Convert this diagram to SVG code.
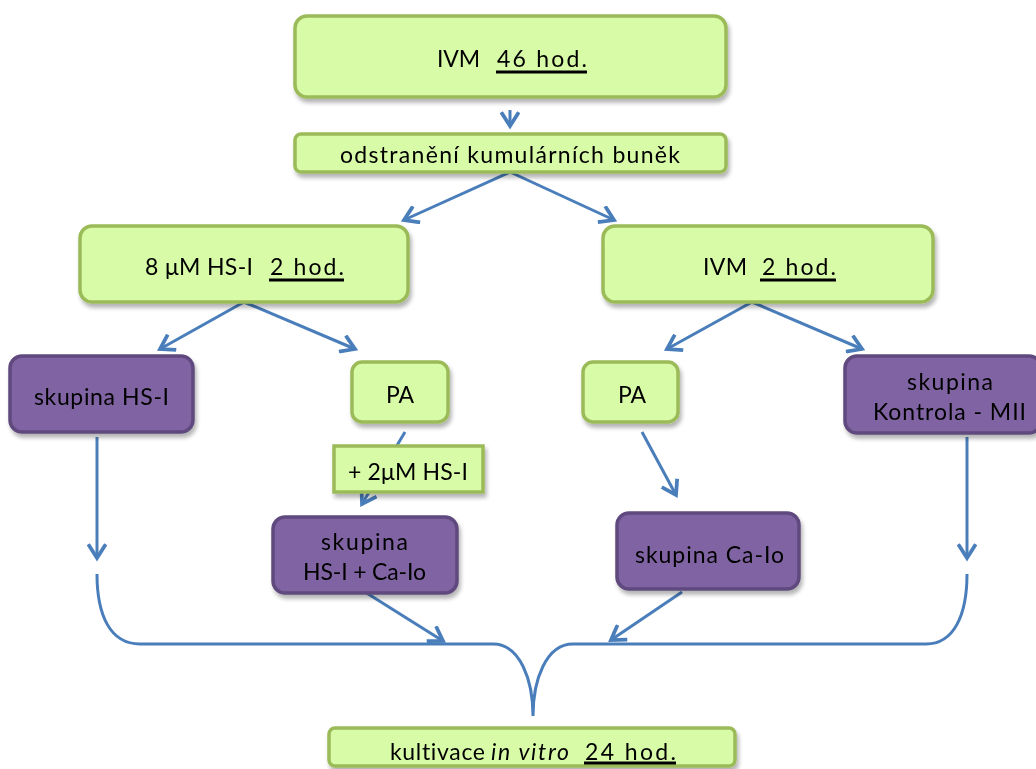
<svg xmlns="http://www.w3.org/2000/svg" width="1036" height="769" viewBox="0 0 1036 769">
<defs>
<style>
.g{fill:#D8FBA8;stroke:#9BBB59;stroke-width:3.5}
.p{fill:#8064A2;stroke:#5E4A7E;stroke-width:3.5}
.t{font-family:Lato,"Liberation Sans",sans-serif;font-size:23px;fill:#000;font-variant-ligatures:none}
.c{fill:none;stroke:#4A7EBB;stroke-width:3}
.u{stroke:#000;stroke-width:3}
</style>
<filter id="sh" x="-10%" y="-10%" width="130%" height="140%">
<feGaussianBlur in="SourceAlpha" stdDeviation="2"/>
<feOffset dx="2" dy="4"/>
<feComponentTransfer><feFuncA type="linear" slope="0.3"/></feComponentTransfer>
<feMerge><feMergeNode/><feMergeNode in="SourceGraphic"/></feMerge>
</filter>
<marker id="a" markerUnits="userSpaceOnUse" markerWidth="20" markerHeight="20" viewBox="-12 -8 14 16" refX="0" refY="0" orient="auto">
<path d="M-11,-7 L0,0 L-11,7" fill="none" stroke="#4A7EBB" stroke-width="3"/>
</marker>
</defs>

<g id="connectors">
<line class="c" x1="510" y1="110" x2="510" y2="126" marker-end="url(#a)"/>
<line class="c" x1="510" y1="172" x2="404" y2="220" marker-end="url(#a)"/>
<line class="c" x1="510" y1="172" x2="614" y2="220" marker-end="url(#a)"/>
<line class="c" x1="244" y1="302" x2="160" y2="349" marker-end="url(#a)"/>
<line class="c" x1="244" y1="302" x2="355" y2="349" marker-end="url(#a)"/>
<line class="c" x1="752" y1="302" x2="667" y2="349" marker-end="url(#a)"/>
<line class="c" x1="752" y1="302" x2="862" y2="349" marker-end="url(#a)"/>
<line class="c" x1="405" y1="432" x2="362" y2="504" marker-end="url(#a)"/>
<line class="c" x1="642" y1="432" x2="676" y2="495" marker-end="url(#a)"/>
<line class="c" x1="97" y1="437" x2="97" y2="558" marker-end="url(#a)"/>
<line class="c" x1="967" y1="437" x2="967" y2="558" marker-end="url(#a)"/>
<line class="c" x1="365" y1="592" x2="443" y2="641" marker-end="url(#a)"/>
<line class="c" x1="682" y1="592" x2="611" y2="640" marker-end="url(#a)"/>
<path class="c" d="M97,574 C97,615 110,644 140,644 L493,644 C520,644 533,680 533,716 C533,680 546,644 573,644 L926,644 C954,644 967,615 967,574"/>
</g>

<g id="n1" filter="url(#sh)">
<rect class="g" x="295" y="16" width="431" height="81" rx="12"/>
<text class="t" x="437" y="67" textLength="43">IVM</text>
<text class="t" x="497" y="67" textLength="90">46 hod.</text>
<line class="u" x1="496" y1="72" x2="587" y2="72"/>
</g>

<g id="n2" filter="url(#sh)">
<rect class="g" x="295" y="134" width="431" height="38" rx="6"/>
<text class="t" x="340" y="163" textLength="340">odstranění kumulárních buněk</text>
</g>

<g id="n3" filter="url(#sh)">
<rect class="g" x="80" y="226" width="328" height="76" rx="12"/>
<text class="t" x="145" y="275" textLength="108">8 μM HS-I</text>
<text class="t" x="270" y="275" textLength="74">2 hod.</text>
<line class="u" x1="269" y1="280" x2="344" y2="280"/>
</g>

<g id="n4" filter="url(#sh)">
<rect class="g" x="603" y="226" width="330" height="76" rx="12"/>
<text class="t" x="703" y="275" textLength="44">IVM</text>
<text class="t" x="762" y="275" textLength="74">2 hod.</text>
<line class="u" x1="760" y1="280" x2="836" y2="280"/>
</g>

<g id="n5" filter="url(#sh)">
<rect class="p" x="10" y="356" width="183" height="76" rx="12"/>
<text class="t" x="34" y="405" textLength="135">skupina HS-I</text>
</g>

<g id="n6" filter="url(#sh)">
<rect class="g" x="352" y="362" width="96" height="60" rx="10"/>
<text class="t" x="400" y="403" text-anchor="middle">PA</text>
</g>

<g id="n7" filter="url(#sh)">
<rect class="g" x="583" y="362" width="95" height="60" rx="10"/>
<text class="t" x="632" y="403" text-anchor="middle">PA</text>
</g>

<g id="n8" filter="url(#sh)">
<rect class="p" x="845" y="356" width="196" height="77" rx="12"/>
<text class="t" x="907" y="390" textLength="86">skupina</text>
<text class="t" x="873" y="420" textLength="153">Kontrola - MII</text>
</g>

<g id="n9" filter="url(#sh)">
<rect class="g" x="334" y="446" width="149" height="46"/>
<text class="t" x="348" y="480" textLength="120">+ 2μM HS-I</text>
</g>

<g id="n10" filter="url(#sh)">
<rect class="p" x="273" y="517" width="184" height="76" rx="12"/>
<text class="t" x="321" y="550" textLength="87">skupina</text>
<text class="t" x="303" y="580" textLength="123">HS-I + Ca-Io</text>
</g>

<g id="n11" filter="url(#sh)">
<rect class="p" x="617" y="513" width="182" height="76" rx="12"/>
<text class="t" x="635" y="563" textLength="149">skupina Ca-Io</text>
</g>

<g id="n12" filter="url(#sh)">
<rect class="g" x="329" y="728" width="406" height="38" rx="6"/>
<text class="t" x="390" y="760" textLength="95">kultivace</text>
<text class="t" x="491" y="760" textLength="78" font-style="italic">in vitro</text>
<text class="t" x="585" y="760" textLength="91">24 hod.</text>
<line class="u" x1="584" y1="763" x2="676" y2="763"/>
</g>
</svg>
